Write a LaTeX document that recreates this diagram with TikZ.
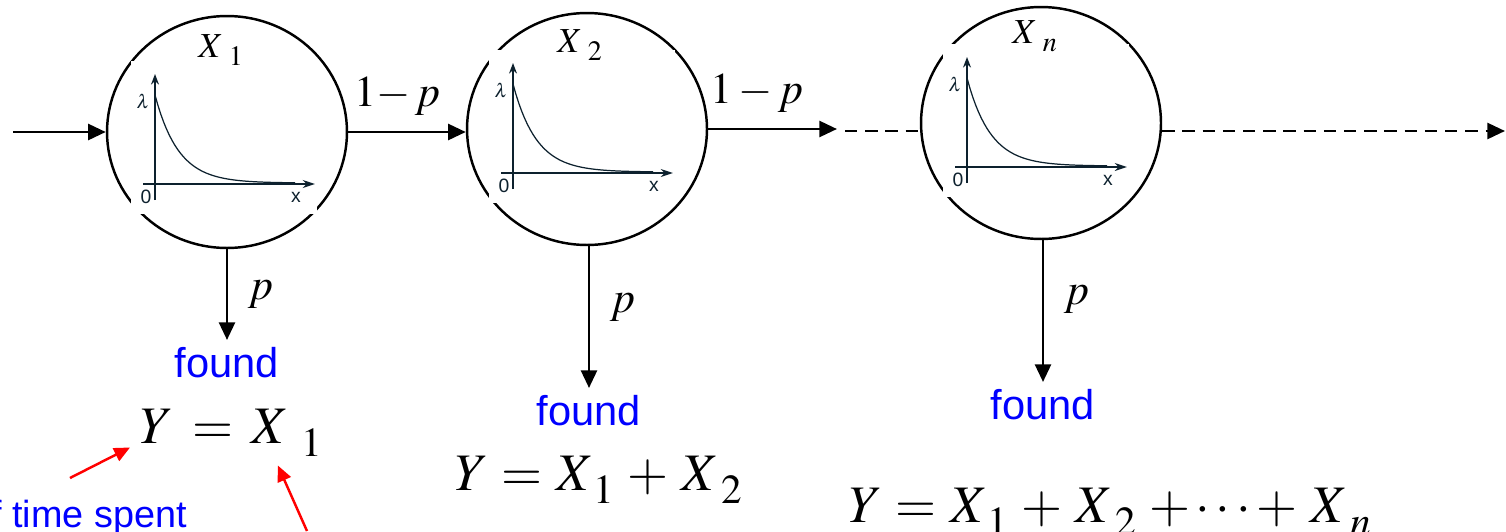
\documentclass[tikz,border=0pt]{standalone}
\usepackage{mathptmx}
\usepackage[no-math]{fontspec}
\setmainfont{Liberation Serif}
\setsansfont{Liberation Sans}
\usetikzlibrary{arrows.meta,shapes.geometric,positioning}
\definecolor{axisgray}{rgb}{0.05,0.13,0.18}
\newcommand{\lsub}[2][23.5]{\raisebox{-0.25em}{\fontsize{#1}{#1}\selectfont$#2$}}
\newcommand{\fgap}{\hspace{0.25em}}
\newcommand{\decay}[1]{\begin{scope}[shift={(#1)}]
 	\fill[white] (-24,30) rectangle (162,-123);
 	\draw[axisgray,line width=1.1pt,-{Stealth[length=6pt,width=4.5pt]}] (0,16) -- (0,-110);
 	\draw[axisgray,line width=1.1pt,-{Stealth[length=7pt,width=4.5pt]}] (-12,0) -- (160,0);
 	\draw[axisgray,line width=0.7pt] plot[domain=0:140,samples=50] (\x,{-88*exp(-\x/23.5)-1});
 	\node[tick] at (-12,-83) {$\lambda$};
 	\node[tick] at (-9,13) {0};
 	\node[tick] at (141,13) {x};
 	\end{scope}}

\tikzset{
  state/.style={ellipse, draw, line width=1.4pt, minimum width=4.8cm, minimum height=4.64cm, inner sep=0pt},
  flow/.style={line width=1.6pt, -{Triangle[length=10pt,width=9pt]}},
  dotted flow/.style={line width=1.6pt, dash pattern=on 7pt off 4.5pt},
  note/.style={red, line width=1.4pt, -{Triangle[length=9pt,width=8pt]}},
  found/.style={text=blue, font=\sffamily\fontsize{23.7}{26}\selectfont, inner sep=4pt},
  prob/.style={font=\fontsize{25}{28}\selectfont, inner sep=0pt},
  lbl/.style={font=\fontsize{20}{22}\selectfont, inner sep=0pt},
  sum/.style={font=\fontsize{30}{32}\selectfont, inner sep=0pt},
  tick/.style={font=\sffamily\fontsize{11}{12}\selectfont, inner sep=0pt, axisgray}
}

\begin{document}
\begin{tikzpicture}[x=0.02cm,y=-0.02cm]
\useasboundingbox (0,0) rectangle (1506,531);
% the three stages
\node[state] (c1) at (227,132) {};
\node[state] (c2) at (587,129) {};
\node[state] (cn) at (1041,123) {};
\decay{155,184}
\decay{513,173}
\decay{967,167}
\node[lbl, anchor=base west] (l1) at (198,57) {$X$\,\lsub[16]{1}};
\node[lbl, anchor=base west] (l2) at (557,52) {$X$\,\lsub[16]{2}};
\node[lbl, anchor=base west] (ln) at (1012,43) {$X$\,\lsub[16]{n}};
%
\coordinate (in) at (13,132);
\coordinate (d1) at (837,131);
\coordinate (d2) at (845,131);
\coordinate (out) at (1505,131);
\draw[flow] (in) -- (in -| c1.west);
\draw[flow] (c1.east) -- node[prob, above=0.3cm, pos=0.42] {$1{-}\,p$} (c1.east -| c2.west);
\draw[flow] (c2.east) -- node[prob, above=0.3cm, pos=0.38] {$1-p$} (c2.east -| d1);
\draw[dotted flow] (d2) -- (d2 -| cn.west);
\draw[dotted flow, -{Triangle[length=10pt,width=9pt]}] (cn.east |- out) -- (out);
%
\node[found, anchor=north] (f1) at (227,340) {found};
\node[found, anchor=north] (f2) at (589,388) {found};
\node[found, anchor=north] (fn) at (1043,382) {found};
\draw[flow] (c1.south) -- node[prob, right=0.4cm, pos=0.5] {$p$} (f1.north);
\draw[flow] (c2.south -| f2.north) -- node[prob, right=0.4cm, pos=0.43] {$p$} (f2.north);
\draw[flow] (cn.south -| fn.north) -- node[prob, right=0.4cm, pos=0.42] {$p$} (fn.north);
%
\node[sum, anchor=base west] (y1) at (140,443) {$Y$\hspace{0.35em}$=$\hspace{0.35em}$X$\hspace{0.25em}\lsub{1}};
\node[sum, anchor=base west] (y2) at (455,490) {$Y$\fgap$=$\fgap$X$\lsub{1}\fgap$+$\fgap$X$\hspace{0.06em}\lsub{2}};
\node[sum, anchor=base west] (yn) at (849,522) {$Y$\fgap$=$\fgap$X$\lsub{1}\fgap$+$\fgap$X$\hspace{0.06em}\lsub{2}\fgap$+$\hspace{0.1em}$\cdots$\hspace{0.1em}$+$\fgap$X$\hspace{0.06em}\lsub{n}};
%
\node[found, inner sep=0pt, anchor=base east] (spent) at (187,527) {\fontsize{21.5}{24}\selectfont f time spent};
\coordinate (r1) at (70,478);
\coordinate (r2) at (307,531);
\draw[note] (r1) -- ([shift={(-10,15)}]y1.west);
\draw[note] (r2) -- ([shift={(-45,9)}]y1.south east);
\end{tikzpicture}
\end{document}
